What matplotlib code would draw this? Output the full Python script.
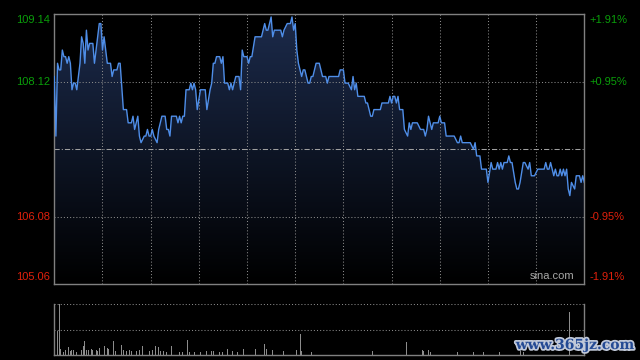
import matplotlib
matplotlib.use('Agg')
import matplotlib.pyplot as plt
import matplotlib.patheffects as pe
import numpy as np

# intraday price (minute index from open, price)
minutes = [0, 1, 2, 3, 4, 5, 6, 7, 8, 9, 10, 11, 12, 13, 14, 16, 17, 18, 19, 20,
           21, 22, 24, 25, 27, 28, 29, 30, 31, 33, 35, 36, 37, 39, 40, 41, 43, 45, 46, 48,
           49, 50, 52, 53, 54, 56, 57, 58, 59, 60, 61, 62, 64, 65, 67, 69, 70, 71, 72, 73,
           76, 77, 78, 79, 80, 81, 82, 84, 85, 86, 87, 88, 89, 91, 94, 95, 97, 98, 99, 100,
           101, 103, 104, 105, 106, 108, 109, 110, 111, 113, 115, 116, 117, 118, 120, 121, 122, 123, 125, 129,
           131, 132, 133, 134, 135, 136, 137, 141, 142, 143, 145, 147, 148, 149, 150, 151, 152, 154, 155, 156,
           158, 159, 160, 161, 163, 165, 167, 169, 170, 171, 177, 178, 180, 181, 183, 185, 186, 187, 188, 189,
           190, 193, 194, 195, 197, 198, 199, 203, 204, 208, 209, 210, 211, 212, 213, 214, 215, 217, 218, 220,
           221, 222, 223, 226, 228, 230, 231, 232, 233, 235, 236, 239, 240, 241, 243, 244, 249, 251, 252, 253,
           254, 259, 261, 262, 263, 265, 266, 269, 270, 272, 273, 275, 276, 277, 278, 279, 280, 282, 283, 284,
           285, 287, 288, 289, 290, 292, 293, 295, 296, 297, 299, 301, 305, 306, 307, 308, 309, 311, 312, 313,
           314, 315, 316, 317, 318, 319, 320, 321, 322, 324, 325, 327, 328, 329, 330]
prices = [108.2, 107.3, 108.4, 108.3, 108.3, 108.6, 108.5, 108.5, 108.4, 108.5, 108.4, 108.0, 108.1, 108.1, 108.0, 108.4, 108.8, 108.7, 108.4, 108.9,
          108.6, 108.7, 108.7, 108.4, 108.8, 109.0, 109.0, 108.6, 108.8, 108.4, 108.4, 108.2, 108.3, 108.3, 108.4, 108.4, 107.7, 107.7, 107.5, 107.5,
          107.6, 107.4, 107.6, 107.3, 107.2, 107.3, 107.3, 107.4, 107.3, 107.3, 107.4, 107.3, 107.2, 107.4, 107.6, 107.6, 107.4, 107.4, 107.3, 107.6,
          107.6, 107.5, 107.6, 107.5, 107.6, 107.6, 108.0, 108.0, 108.1, 108.0, 108.1, 108.0, 107.7, 108.0, 108.0, 107.7, 108.0, 108.1, 108.4, 108.4,
          108.5, 108.5, 108.4, 108.5, 108.1, 108.1, 108.0, 108.1, 108.0, 108.2, 108.2, 108.0, 108.6, 108.5, 108.5, 108.4, 108.5, 108.5, 108.8, 108.8,
          109.0, 108.9, 108.9, 109.0, 109.1, 108.8, 108.9, 108.9, 108.8, 108.9, 109.0, 109.0, 109.1, 108.9, 109.0, 108.6, 108.4, 108.2, 108.3, 108.3,
          108.1, 108.1, 108.2, 108.2, 108.4, 108.4, 108.2, 108.2, 108.1, 108.2, 108.2, 108.3, 108.3, 108.1, 108.1, 108.0, 108.2, 108.0, 108.1, 107.9,
          107.9, 107.9, 107.8, 107.8, 107.6, 107.6, 107.7, 107.7, 107.8, 107.8, 107.9, 107.8, 107.9, 107.9, 107.8, 107.9, 107.7, 107.7, 107.4, 107.3,
          107.5, 107.4, 107.5, 107.5, 107.4, 107.4, 107.3, 107.4, 107.6, 107.4, 107.5, 107.5, 107.6, 107.5, 107.5, 107.3, 107.3, 107.2, 107.2, 107.3,
          107.2, 107.2, 107.1, 107.2, 107.0, 107.0, 106.8, 106.8, 106.6, 106.9, 106.8, 106.8, 106.9, 106.8, 106.9, 106.8, 106.9, 106.9, 107.0, 106.9,
          106.9, 106.6, 106.5, 106.5, 106.6, 106.9, 106.9, 106.8, 106.9, 106.7, 106.7, 106.8, 106.8, 106.9, 106.8, 106.8, 106.9, 106.7, 106.8, 106.7,
          106.7, 106.8, 106.7, 106.8, 106.7, 106.8, 106.5, 106.4, 106.6, 106.5, 106.7, 106.7, 106.6, 106.7, 106.6]

# volume bars that stand out (minute index, relative volume)
vol_minutes = [0, 2, 3, 4, 6, 7, 9, 10, 11, 12, 14, 16, 17, 18, 19, 20, 21, 23, 24, 26,
               27, 28, 31, 33, 34, 37, 38, 42, 43, 45, 47, 48, 49, 51, 53, 55, 59, 61, 63, 65,
               66, 68, 70, 73, 78, 80, 83, 84, 87, 91, 95, 98, 99, 103, 105, 108, 111, 114, 118, 125,
               131, 132, 136, 143, 151, 153, 154, 160, 198, 219, 229, 230, 233, 234, 251, 261, 267, 277, 290, 292,
               321, 330]
volumes = [37, 47, 100, 11, 5, 9, 15, 7, 9, 10, 5, 18, 10, 18, 27, 10, 9, 11, 9, 9,
           8, 13, 18, 13, 11, 27, 7, 20, 10, 7, 9, 7, 9, 7, 9, 18, 7, 10, 18, 15,
           7, 8, 5, 17, 5, 5, 30, 5, 6, 6, 8, 8, 8, 5, 5, 11, 7, 5, 11, 11,
           21, 11, 10, 7, 10, 42, 7, 5, 7, 26, 10, 7, 9, 5, 5, 6, 6, 5, 8, 6,
           84, 63]

prev_close = 107.10
price_top = 109.14
price_bottom = 105.06
grid_prices = [108.12, 106.08]
left_labels = ['109.14', '108.12', '106.08', '105.06']
right_labels = ['+1.91%', '+0.95%', '-0.95%', '-1.91%']
label_prices = [109.14, 108.12, 106.08, 105.06]
session_len = 330

green = '#0a9e0a'
red = '#e0200c'
grid_c = '#8a8a8a'
frame_c = '#808080'
font = 'Liberation Sans'

fig = plt.figure(figsize=(6.4, 3.6), dpi=100, facecolor='black')
ax = fig.add_axes([54.3 / 640, 1 - 284.3 / 360, 530 / 640, 270 / 360])
vax = fig.add_axes([54.3 / 640, 1 - 355 / 360, 530 / 640, 50.7 / 360])

# price panel
ax.set_facecolor('black')
poly = ax.fill_between(minutes, prices, price_bottom, color='none', lw=0)
c0 = np.array([28, 43, 76]) / 255
img = np.linspace(1, 0, 256)[:, None, None] * c0[None, None, :]
im = ax.imshow(img, extent=[0, session_len, price_bottom, price_top], aspect='auto',
               origin='upper', zorder=1)
im.set_clip_path(poly.get_paths()[0], transform=ax.transData)

for m in range(30, session_len, 30):
    ax.axvline(m, color=grid_c, lw=0.75, ls=(0, (1, 2)), zorder=2)
for p in grid_prices:
    ax.axhline(p, color=grid_c, lw=0.75, ls=(0, (1, 2)), zorder=2)
ax.axhline(prev_close, color='#a0a0a0', lw=0.75, ls=(0, (5, 2, 1, 2)), zorder=2)

ax.plot(minutes, prices, color='#4f8ee8', lw=1.0, zorder=3)

ax.set_xlim(0, session_len)
ax.set_ylim(price_bottom, price_top)
ax.set_xticks([])
ax.set_yticks([])
for s in ax.spines.values():
    s.set_color(frame_c)
    s.set_linewidth(1)

for i, (p, lt, rt) in enumerate(zip(label_prices, left_labels, right_labels)):
    col = green if p > prev_close else red
    if i == 0:
        va, dy = 'top', -0.5
    elif i == len(label_prices) - 1:
        va, dy = 'bottom', 1.5
    else:
        va, dy = 'center', 0
    ax.annotate(lt, xy=(0, p), xycoords=('axes fraction', 'data'), xytext=(-3, dy),
                textcoords='offset points', ha='right', va=va, color=col,
                fontsize=8, family=font)
    ax.annotate(rt, xy=(1, p), xycoords=('axes fraction', 'data'), xytext=(4, dy),
                textcoords='offset points', ha='left', va=va, color=col,
                fontsize=8, family=font)

ax.text(0.94, 0.012, 'sina.com', transform=ax.transAxes, ha='center', va='bottom',
        color='#a8a8a8', fontsize=8, family=font, zorder=4)

# volume panel
vax.set_facecolor('black')
vax.bar(vol_minutes, volumes, width=0.6, color='#8c8c8c', lw=0)
vax.set_xlim(0, session_len)
vax.set_ylim(0, 100)
vax.axhline(100, color=grid_c, lw=0.75, ls=(0, (1, 2)))
vax.axhline(50, color=grid_c, lw=0.75, ls=(0, (1, 2)))
vax.set_xticks([])
vax.set_yticks([])
vax.spines['top'].set_visible(False)
for k in ['left', 'right', 'bottom']:
    vax.spines[k].set_color(frame_c)
    vax.spines[k].set_linewidth(1)

fig.text(575 / 640, 1 - 345 / 360, 'www.365jz.com', ha='center', va='center',
         fontsize=10, color='#244a94', fontweight='bold', family='DejaVu Serif',
         path_effects=[pe.withStroke(linewidth=2.5, foreground='#c0c8d8')])

fig.savefig('out.png', dpi=100, facecolor='black')
